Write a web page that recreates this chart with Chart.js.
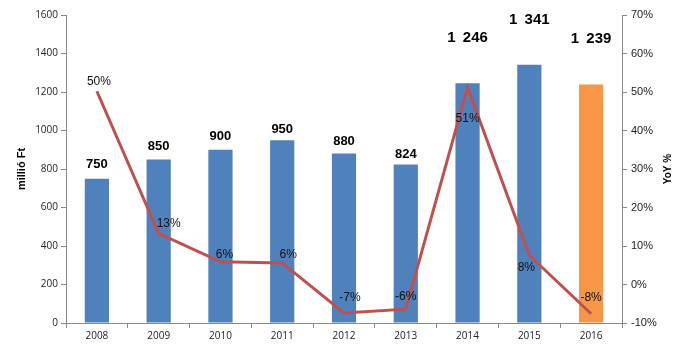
<!DOCTYPE html>
<html><head><meta charset="utf-8">
<script src="https://cdn.jsdelivr.net/npm/chart.js@4/dist/chart.umd.min.js"></script>
<style>html,body{margin:0;padding:0;background:#fff}#wrap{width:688px;height:351px}</style>
</head><body><div id="wrap"><canvas id="c" width="688" height="351"></canvas></div>
<script>
const categories = ['2008','2009','2010','2011','2012','2013','2014','2015','2016'];
const revenue = [750, 850, 900, 950, 880, 824, 1246, 1341, 1239];
const yoy = [50.2, 13.3, 5.9, 5.6, -7.4, -6.4, 51.2, 7.6, -7.6];
const yoyLabels = ['50%','13%','6%','6%','-7%','-6%','51%','8%','-8%'];
const revenueLabels = ['750','850','900','950','880','824','1\u2009\u00a0246','1\u2009\u00a0341','1\u2009\u00a0239'];
const leftTicks = [0,200,400,600,800,1000,1200,1400,1600];
const rightTicks = [-10,0,10,20,30,40,50,60,70];

const barColors = ['#4F81BD','#4F81BD','#4F81BD','#4F81BD','#4F81BD','#4F81BD','#4F81BD','#4F81BD','#F79646'];
const barLabelStyle = [
 {dy:-14,font:'bold 13px "Liberation Sans"'},{dy:-13,font:'bold 13px "Liberation Sans"'},
 {dy:-13,font:'bold 13px "Liberation Sans"'},{dy:-11,font:'bold 13px "Liberation Sans"'},
 {dy:-12,font:'bold 13px "Liberation Sans"'},{dy:-10,font:'bold 13px "Liberation Sans"'},
 {dy:-45,font:'bold 15px "Liberation Sans"'},{dy:-45,font:'bold 15px "Liberation Sans"'},
 {dy:-46,font:'bold 15px "Liberation Sans"'}];
const lineLabelOffset = [[2,-10],[10,-10],[4,-7],[6,-8],[6,-15],[0,-12],[0,31],[-3,12],[0,-16]];

const labelPlugin = {
  id:'labels',
  afterDatasetsDraw(chart){
    const ctx = chart.ctx;
    ctx.save();
    ctx.textAlign='center'; ctx.textBaseline='middle';
    const bm = chart.getDatasetMeta(1);
    bm.data.forEach((el,i)=>{
      ctx.font = barLabelStyle[i].font; ctx.fillStyle='#000';
      ctx.fillText(revenueLabels[i], el.x, el.y + barLabelStyle[i].dy);
    });
    const lm = chart.getDatasetMeta(0);
    lm.data.forEach((el,i)=>{
      ctx.font = '12px "Liberation Sans"'; ctx.fillStyle='#111';
      ctx.fillText(yoyLabels[i], el.x + lineLabelOffset[i][0], el.y + lineLabelOffset[i][1]);
    });
    ctx.fillStyle='#000';
    ctx.font='bold 11px "Liberation Sans"';
    const ca = chart.chartArea;
    const cy = (ca.top+ca.bottom)/2;
    ctx.save(); ctx.translate(22, cy); ctx.rotate(-Math.PI/2); ctx.fillText('millió Ft',0,0); ctx.restore();
    ctx.font='bold 10px "Liberation Sans"';
    ctx.save(); ctx.translate(668, cy); ctx.rotate(-Math.PI/2); ctx.fillText('YoY %',0,0); ctx.restore();
    ctx.restore();
  }
};

new Chart(document.getElementById('c'), {
  data:{
    labels: categories,
    datasets:[
      {type:'line', data: yoy, yAxisID:'y1', borderColor:'#C0504D', borderWidth:3, pointRadius:0, tension:0, order:0},
      {type:'bar', data: revenue, yAxisID:'y', backgroundColor: barColors, categoryPercentage:0.8, barPercentage:0.49, order:1}
    ]
  },
  options:{
    responsive:false, animation:false,
    layout:{padding:{top:15,left:0,right:0,bottom:0}},
    plugins:{legend:{display:false}, tooltip:{enabled:false}},
    scales:{
      x:{
        offset:true,
        grid:{offset:true, drawOnChartArea:false, tickLength:5, color:'#888'},
        border:{color:'#888'},
        ticks:{font:{family:'"Open Sans"', size:10}, color:'#222', padding:2, maxRotation:0},
        afterFit(s){ s.height = 28; }
      },
      y:{
        position:'left', min:0, max:1600,
        afterBuildTicks(s){ s.ticks = leftTicks.map(v=>({value:v})); },
        grid:{drawOnChartArea:false, tickLength:5, color:'#888'},
        border:{color:'#888'},
        ticks:{font:{family:'"Open Sans"', size:10}, color:'#222', padding:3, callback:v=>String(v)},
        afterFit(s){ s.width = 66; }
      },
      y1:{
        position:'right', min:-10, max:70,
        afterBuildTicks(s){ s.ticks = rightTicks.map(v=>({value:v})); },
        grid:{drawOnChartArea:false, tickLength:5, color:'#888'},
        border:{color:'#888'},
        ticks:{font:{family:'"Liberation Sans"', size:11}, color:'#222', padding:4, callback:v=>v+'%'},
        afterFit(s){ s.width = 66; }
      }
    }
  },
  plugins:[labelPlugin]
});
</script>
</body></html>
